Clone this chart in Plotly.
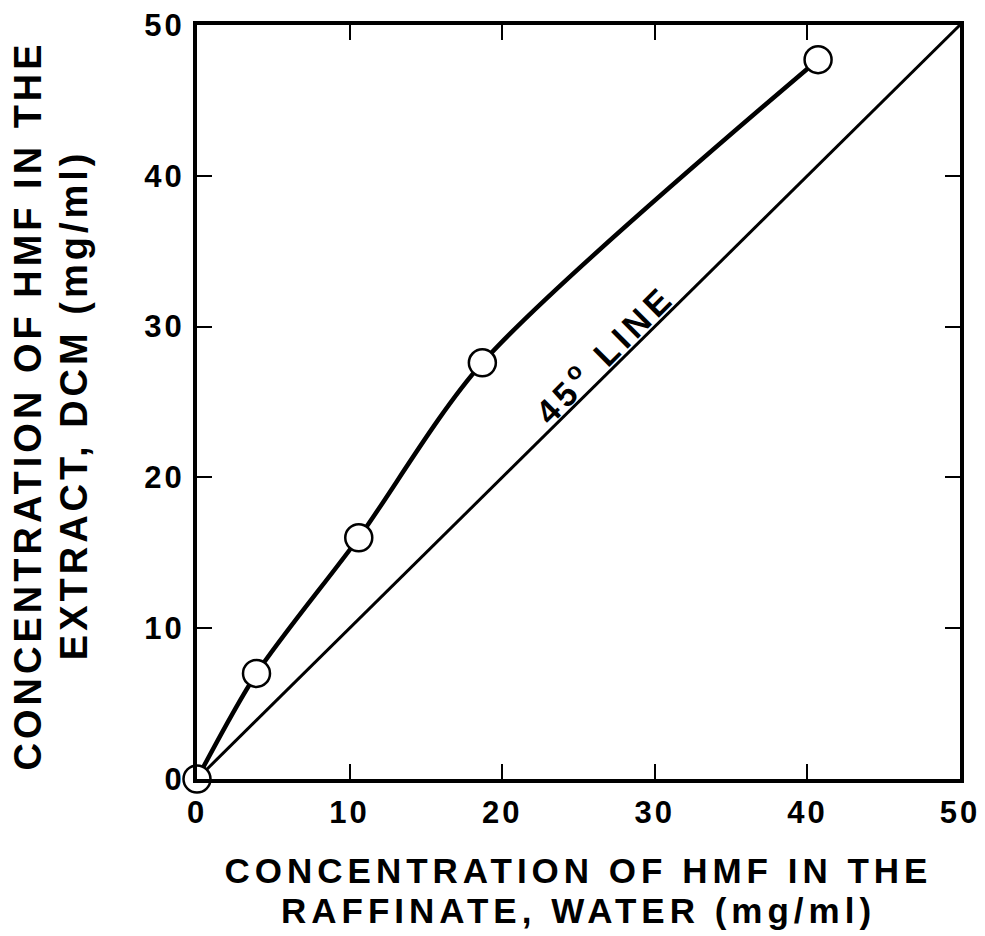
import plotly.graph_objects as go

# Data
raffinate = [0.0, 3.9, 10.6, 18.7, 40.7]      # HMF in raffinate (water), mg/ml
extract = [0.0, 7.0, 16.0, 27.6, 47.7]        # HMF in extract (DCM), mg/ml
line45_x = [0, 50]
line45_y = [0, 50]
tick_vals = [0, 10, 20, 30, 40, 50]
tick_text = ["0", "10", "20", "30", "40", "50"]

FONT = "Liberation Sans, Arial, Helvetica, sans-serif"

fig = go.Figure()

fig.add_trace(go.Scatter(
    x=line45_x, y=line45_y, mode="lines",
    line=dict(color="black", width=3),
    cliponaxis=False, showlegend=False, hoverinfo="skip"))

fig.add_trace(go.Scatter(
    x=raffinate, y=extract, mode="lines",
    line=dict(color="black", width=4.5, shape="spline", smoothing=0.8),
    cliponaxis=False, showlegend=False))

fig.add_trace(go.Scatter(
    x=raffinate, y=extract, mode="markers",
    marker=dict(symbol="circle", size=27, color="white",
                line=dict(color="black", width=2.5)),
    cliponaxis=False, showlegend=False))

axis_common = dict(
    range=[0, 50], tickvals=tick_vals, ticktext=tick_text,
    showgrid=False, zeroline=False, automargin=False,
    showline=True, linecolor="black", linewidth=4, mirror="ticks",
    ticks="inside", ticklen=15, tickwidth=2, tickcolor="black",
    tickfont=dict(family=FONT, size=31, color="black", weight="bold"),
)

fig.update_xaxes(**axis_common, ticklabelstandoff=3)
fig.update_yaxes(**axis_common, ticklabelstandoff=2)

xt_font = dict(family=FONT, size=35, color="black", weight="bold")
yt_font = dict(family=FONT, size=38, color="black", weight="bold")

fig.add_annotation(text="CONCENTRATION OF HMF IN THE", xref="paper", yref="paper",
                   x=0.5, y=-0.1207, xanchor="center", yanchor="middle",
                   showarrow=False, font=xt_font)
fig.add_annotation(text="RAFFINATE, WATER (mg/ml)", xref="paper", yref="paper",
                   x=0.5, y=-0.175, xanchor="center", yanchor="middle",
                   showarrow=False, font=xt_font)
fig.add_annotation(text="CONCENTRATION OF HMF IN THE", xref="paper", yref="paper",
                   x=-0.221, y=0.496, xanchor="center", yanchor="middle",
                   textangle=-90, showarrow=False, font=yt_font)
fig.add_annotation(text="EXTRACT, DCM (mg/ml)", xref="paper", yref="paper",
                   x=-0.161, y=0.496, xanchor="center", yanchor="middle",
                   textangle=-90, showarrow=False, font=yt_font)
fig.add_annotation(text="45<sup>o</sup> LINE", xref="x", yref="y",
                   x=26.6, y=28.3, xanchor="center", yanchor="middle",
                   textangle=-45, showarrow=False,
                   font=dict(family=FONT, size=34, color="black", weight="bold"))

fig.update_layout(
    width=985, height=936, autosize=False,
    margin=dict(l=197, r=25, t=25, b=157),
    paper_bgcolor="white", plot_bgcolor="white",
    font=dict(family=FONT, color="black"),
)

# page without default body margin + letter spacing (tracking) like the original
post_js = """
(function(){
  document.body.style.margin = '0';
  document.body.style.padding = '0';
  var spacing = ['5px', '5px', '4px', '4px', '5px'];
  function track(){
    var gd = document.getElementById('{plot_id}');
    if(!gd) return;
    gd.querySelectorAll('.annotation').forEach(function(a, i){
      var idx = parseInt(a.getAttribute('data-index'));
      if (isNaN(idx)) idx = i;
      var t = a.querySelector('.annotation-text');
      if (t) t.style.letterSpacing = spacing[idx] || '0px';
    });
    gd.querySelectorAll('.xtick text, .ytick text').forEach(function(e){
      e.style.letterSpacing = '3px';
    });
  }
  track();
  setTimeout(track, 50);
  setTimeout(track, 300);
})();
"""

fig.write_html("out.html", post_script=post_js, config={"displayModeBar": False})
